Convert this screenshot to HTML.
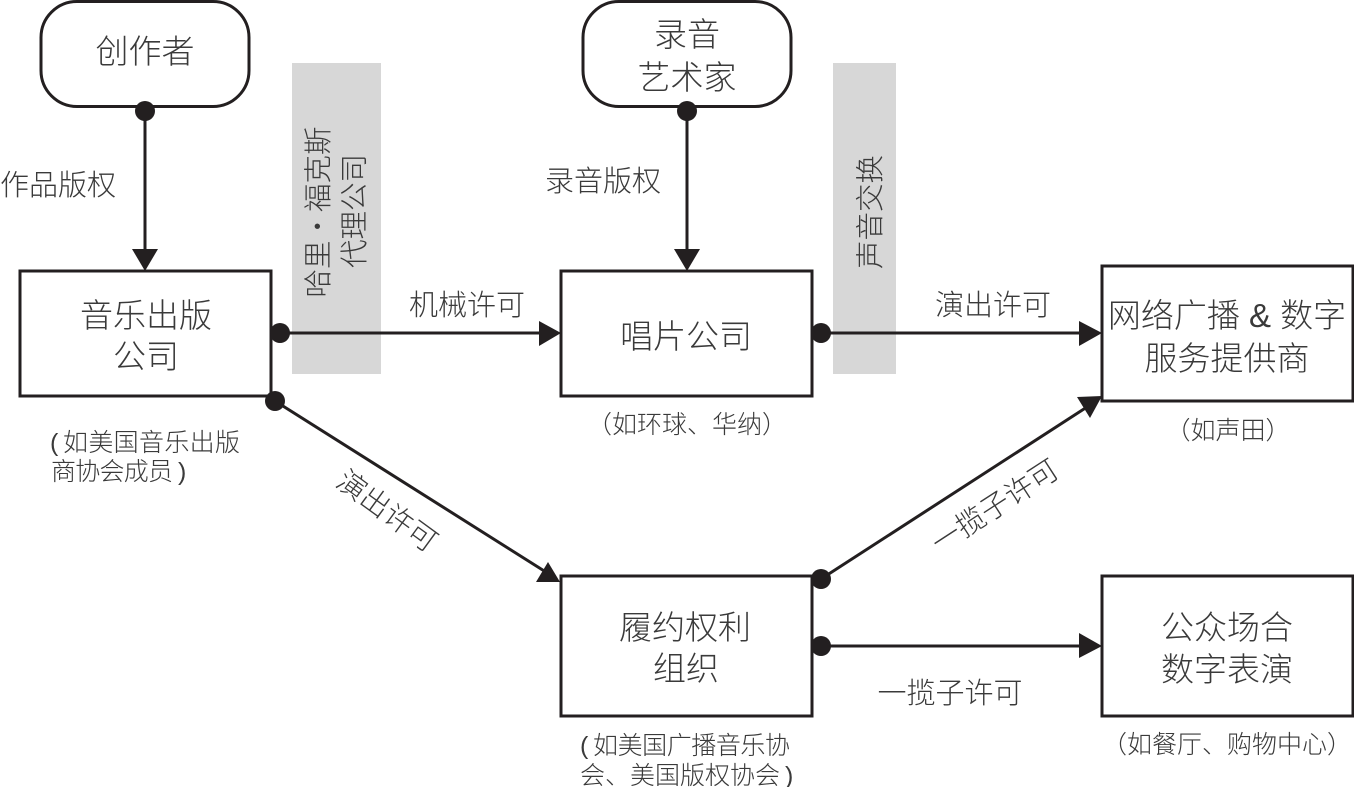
<!DOCTYPE html>
<html lang="zh"><head><meta charset="utf-8"><style>
html,body{margin:0;padding:0;background:#fff}
svg{display:block}
text{font-family:"Liberation Sans","Noto Sans CJK SC","WenQuanYi Zen Hei",sans-serif;fill:#3a3a3a;font-weight:300}
.b{font-size:33px;text-anchor:middle}
.l{font-size:29px;text-anchor:middle}
.s{font-size:25px;text-anchor:middle}
.g{font-size:28.5px;text-anchor:middle}
.a{font-size:25px}
</style></head><body>
<svg width="1354" height="787" viewBox="0 0 1354 787" xmlns="http://www.w3.org/2000/svg">
<rect x="292" y="63" width="89" height="311" fill="#d7d7d7"/>
<rect x="833" y="63" width="63" height="311" fill="#d7d7d7"/>
<g fill="#fff" stroke="#231f20" stroke-width="3">
<rect x="41" y="1.5" width="208" height="105" rx="36"/>
<rect x="583" y="1.5" width="208" height="105" rx="36"/>
<rect x="20" y="271" width="251" height="125"/>
<rect x="561" y="271" width="251" height="125"/>
<rect x="1102" y="266" width="251" height="135"/>
<rect x="561" y="576" width="251" height="140"/>
<rect x="1102" y="576" width="251" height="140"/>
</g>
<g stroke="#231f20" stroke-width="3" fill="none">
<line x1="145" y1="111" x2="145" y2="252"/>
<line x1="687" y1="111" x2="687" y2="252"/>
<line x1="280" y1="333" x2="542" y2="333"/>
<line x1="821" y1="333" x2="1082" y2="333"/>
<line x1="821" y1="646" x2="1082" y2="646"/>
<line x1="275" y1="401" x2="549" y2="574"/>
<line x1="821" y1="579" x2="1087" y2="407"/>
</g>
<g fill="#231f20">
<circle cx="145" cy="111" r="10"/>
<circle cx="687" cy="111" r="10"/>
<circle cx="280" cy="333" r="10"/>
<circle cx="821" cy="333" r="10"/>
<circle cx="821" cy="579" r="10"/>
<circle cx="821" cy="646" r="10"/>
<circle cx="275" cy="401" r="10"/>
<polygon points="132,249 158,249 145,271"/>
<polygon points="674,249 700,249 687,271"/>
<polygon points="539,321 539,346 561,333"/>
<polygon points="1079,321 1079,346 1102,333"/>
<polygon points="1079,633 1079,658 1102,646"/>
<polygon points="548,562 536,582 560,582"/>
<polygon points="1077,397 1102,396 1090,418"/>
</g>
<text class="b" x="145" y="63">创作者</text>
<text class="b" x="687" y="46">录音</text>
<text class="b" x="687" y="89">艺术家</text>
<text class="b" x="146" y="327">音乐出版</text>
<text class="b" x="146" y="368">公司</text>
<text class="b" x="686" y="348">唱片公司</text>
<text class="b" x="1227" y="327">网络广播 &amp; 数字</text>
<text class="b" x="1227" y="370">服务提供商</text>
<text class="b" x="685" y="639">履约权利</text>
<text class="b" x="686" y="680">组织</text>
<text class="b" x="1227" y="639">公众场合</text>
<text class="b" x="1227" y="681">数字表演</text>
<text class="l" x="58" y="195">作品版权</text>
<text class="l" x="603" y="191">录音版权</text>
<text class="l" x="467" y="315">机械许可</text>
<text class="l" x="993" y="315">演出许可</text>
<text class="l" x="950" y="703">一揽子许可</text>
<text class="l" transform="translate(387,511) rotate(36)" x="0" y="10">演出许可</text>
<text class="l" transform="translate(995,506) rotate(-33)" x="0" y="10">一揽子许可</text>
<text class="g" transform="translate(328,212) rotate(-90)">哈里・福克斯</text>
<text class="g" transform="translate(364,211) rotate(-90)">代理公司</text>
<text class="g" transform="translate(880,212) rotate(-90)">声音交换</text>
<text class="a" x="50" y="451">(</text><text class="a" x="63" y="451" textLength="177">如美国音乐出版</text>
<text class="a" x="51" y="480" textLength="122">商协会成员</text><text class="a" x="178" y="480">)</text>
<text class="s" x="687" y="433">（如环球、华纳）</text>
<text class="s" x="1228" y="439">（如声田）</text>
<text class="a" x="580" y="754">(</text><text class="a" x="593" y="754" textLength="197">如美国广播音乐协</text>
<text class="a" x="580" y="784" textLength="200">会、美国版权协会</text><text class="a" x="785" y="784">)</text>
<text class="s" x="1227" y="753">（如餐厅、购物中心）</text>
</svg>
</body></html>
